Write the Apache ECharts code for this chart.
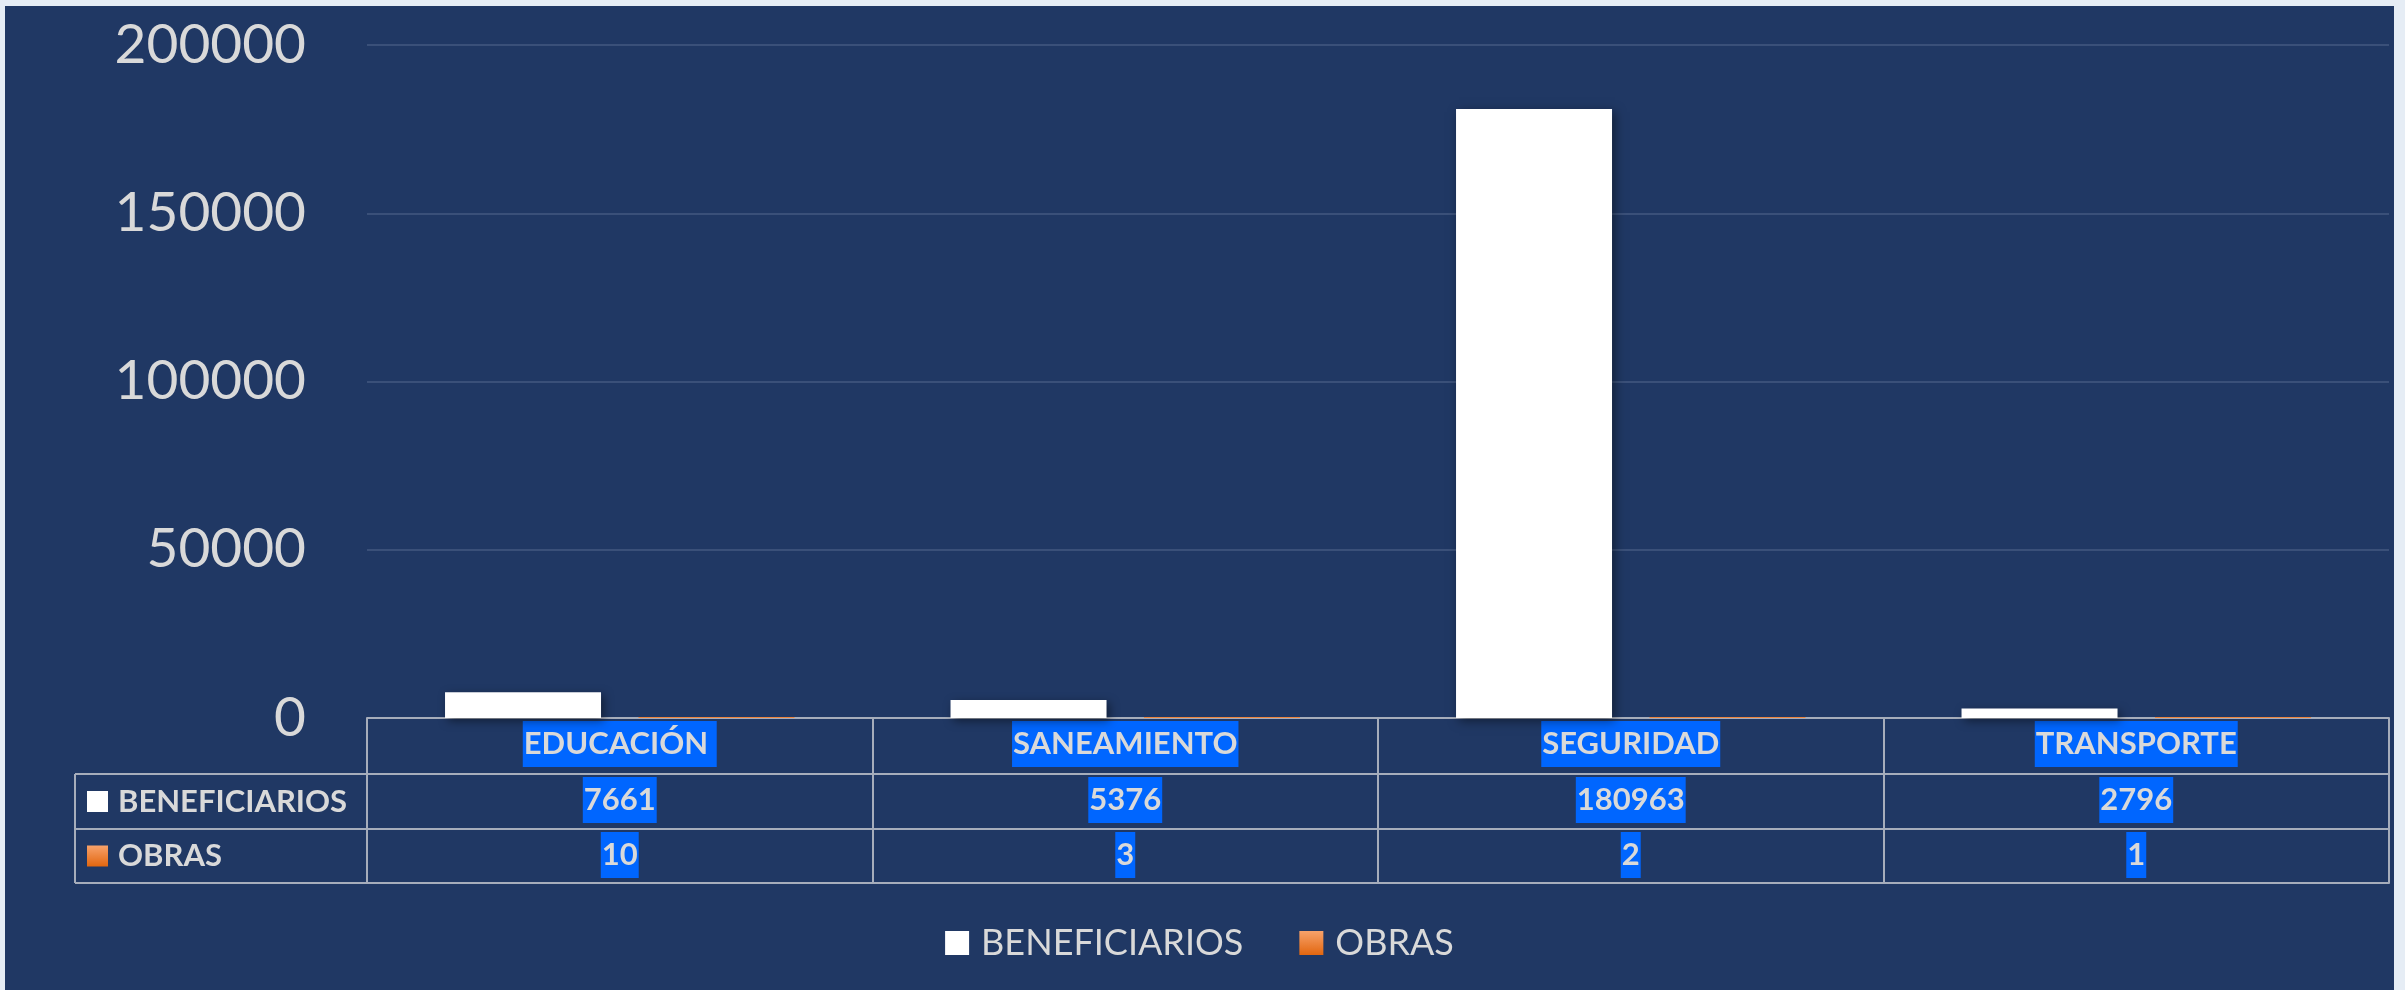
<!DOCTYPE html>
<html>
<head>
<meta charset="utf-8">
<script src="https://cdn.jsdelivr.net/npm/echarts@6/dist/echarts.min.js"></script>
<style>
  html, body { margin: 0; padding: 0; background: #e6edf5; }
  #chart { position: absolute; left: 5px; top: 6px; width: 2389px; height: 984px; background: #203864; }
</style>
</head>
<body>
<div id="chart"></div>
<script>
// data
const categories = ['EDUCACIÓN ', 'SANEAMIENTO', 'SEGURIDAD', 'TRANSPORTE'];
const beneficiarios = [7661, 5376, 180963, 2796];
const obras = [10, 3, 2, 1];
const seriesNames = ['BENEFICIARIOS', 'OBRAS'];
const yMin = 0, yMax = 200000, yStep = 50000;

// layout of the data table under the axis
const gridLeft = 362, gridBottom = 272, chartH = 984;
const axisY = chartH - gridBottom;
const rowOffsets = [56, 111, 165];
const tableLeft = 70;

const textColor = '#d9d9d9';
const lineColor = '#a6adbb';
const orange = new echarts.graphic.LinearGradient(0, 0, 0, 1, [
    { offset: 0, color: '#f7a26b' },
    { offset: 1, color: '#e2660f' }
]);

const cellLabel = {
    color: textColor,
    fontFamily: 'Lato',
    fontWeight: 'bold',
    fontSize: 31,
    lineHeight: 46,
    backgroundColor: '#0066ff',
    padding: [0, 1],
    interval: 0,
    margin: 3
};

const tableAxis = (offset, values) => ({
    type: 'category',
    data: categories,
    position: 'bottom',
    offset: offset,
    axisLine: { show: true, lineStyle: { color: lineColor, width: 2 } },
    axisTick: { show: false },
    axisLabel: values
        ? { ...cellLabel, formatter: (v, i) => String(values[i]) }
        : { show: false },
    splitLine: { show: false }
});

const chart = echarts.init(document.getElementById('chart'));

chart.setOption({
    animation: false,
    grid: { left: gridLeft, right: 5, top: 39, bottom: gridBottom, containLabel: false },
    legend: {
        data: seriesNames,
        left: 'center',
        top: 912,
        icon: 'rect',
        itemWidth: 24,
        itemHeight: 24,
        itemGap: 56,
        textStyle: {
            color: textColor,
            fontFamily: 'Lato',
            fontSize: 36,
            lineHeight: 40,
            padding: [0, 0, 0, 7]
        }
    },
    xAxis: [
        {
            type: 'category',
            data: categories,
            position: 'bottom',
            axisLine: { show: true, lineStyle: { color: lineColor, width: 2 } },
            axisTick: { show: true, length: rowOffsets[2], lineStyle: { color: lineColor, width: 2 } },
            axisLabel: cellLabel,
            splitLine: { show: false }
        },
        tableAxis(rowOffsets[0], beneficiarios),
        tableAxis(rowOffsets[1], obras),
        tableAxis(rowOffsets[2], null)
    ],
    yAxis: {
        type: 'value',
        min: yMin,
        max: yMax,
        interval: yStep,
        axisLine: { show: false },
        axisTick: { show: false },
        axisLabel: {
            color: textColor,
            fontFamily: 'Lato',
            fontSize: 55,
            margin: 61,
            formatter: v => String(v)
        },
        splitLine: { lineStyle: { color: '#3a5079', width: 2 } }
    },
    series: [
        {
            name: seriesNames[0],
            type: 'bar',
            data: beneficiarios,
            barWidth: 156,
            barGap: '24%',
            itemStyle: {
                color: '#ffffff',
                shadowBlur: 10,
                shadowColor: 'rgba(0,0,0,0.45)',
                shadowOffsetX: 3,
                shadowOffsetY: 3
            }
        },
        {
            name: seriesNames[1],
            type: 'bar',
            data: obras,
            barWidth: 156,
            barMinHeight: 1,
            itemStyle: { color: orange }
        }
    ],
    graphic: [
        // left column of the data table (series names)
        ...rowOffsets.map(off => ({
            type: 'line',
            shape: { x1: tableLeft, y1: axisY + off, x2: gridLeft, y2: axisY + off },
            style: { stroke: lineColor, lineWidth: 2 }
        })),
        {
            type: 'line',
            shape: { x1: tableLeft, y1: axisY + rowOffsets[0], x2: tableLeft, y2: axisY + rowOffsets[2] },
            style: { stroke: lineColor, lineWidth: 2 }
        },
        ...seriesNames.map((name, i) => {
            const top = axisY + rowOffsets[i];
            const bottom = axisY + rowOffsets[i + 1];
            const mid = (top + bottom) / 2;
            return {
                type: 'group',
                children: [
                    {
                        type: 'rect',
                        shape: { x: tableLeft + 12, y: mid - 10.5, width: 21, height: 21 },
                        style: { fill: i === 0 ? '#ffffff' : orange }
                    },
                    {
                        type: 'text',
                        x: tableLeft + 43,
                        y: mid,
                        style: {
                            text: name,
                            fill: textColor,
                            font: 'bold 31px Lato',
                            verticalAlign: 'middle'
                        }
                    }
                ]
            };
        })
    ]
});
</script>
</body>
</html>
